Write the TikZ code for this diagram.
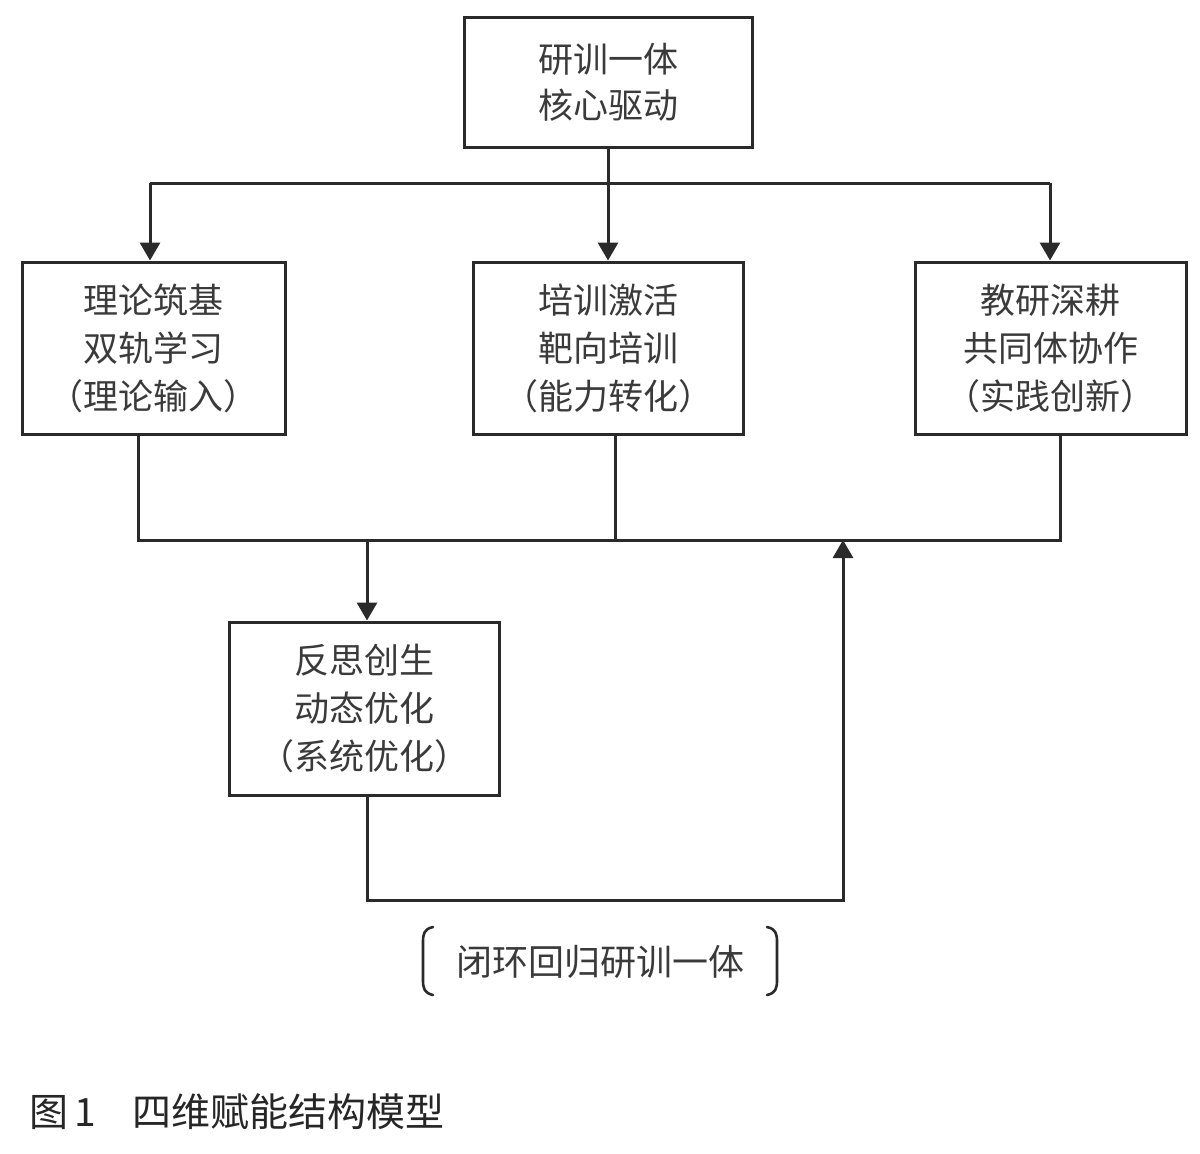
\documentclass[tikz,border=0pt]{standalone}
\usepackage{fontspec}
\setmainfont{Noto Sans CJK SC}
\usetikzlibrary{arrows.meta,calc}
\definecolor{ink}{HTML}{2A2A2A}
\definecolor{txt}{HTML}{3A3A3A}
\tikzset{
  box/.style={draw=ink, line width=1.5pt, inner sep=0pt, align=center, text=txt,
    font=\fontsize{17.5pt}{24pt}\selectfont},
  conn/.style={draw=ink, line width=1.5pt},
  arr/.style={conn, -{Triangle[width=10pt,length=9pt]}},
}
\begin{document}
\begin{tikzpicture}[x=0.5pt,y=-0.5pt]
\useasboundingbox (0,0) rectangle (1200,1153);
% boxes
\node[box, minimum width=144pt, minimum height=65pt] (top) at (608,82) {研训一体\\[-1pt]核心驱动};
\node[box, minimum width=131.5pt, minimum height=86pt] (left) at (153.5,348) {理论筑基\\双轨学习\\（理论输入）};
\node[box, minimum width=135pt, minimum height=86pt] (mid) at (608,348) {培训激活\\靶向培训\\（能力转化）};
\node[box, minimum width=135.5pt, minimum height=86pt] (right) at (1050.5,348) {教研深耕\\共同体协作\\（实践创新）};
\node[box, minimum width=135pt, minimum height=86.5pt] (bot) at (364,708.5) {反思创生\\动态优化\\（系统优化）};
% top distribution
\coordinate (hr) at (1050,183);
\coordinate (hl) at (150,183);
\draw[arr] (top.south) -- (mid.north);
\draw[conn] (hl) -- (hr);
\draw[arr] (hl) -- (hl |- left.north);
\draw[arr] (hr) -- (hr |- right.north);
% collection
\coordinate (j1) at (138,540);
\coordinate (j2) at (615,540);
\coordinate (j3) at (1060,540);
\coordinate (jd) at (367,540);
\coordinate (jm) at (843,540);
\draw[conn] (left.south -| j1) -- (j1) -- (j3) -- (right.south -| j3);
\draw[conn] (mid.south -| j2) -- (j2);
\draw[arr] (jd) -- (jd |- bot.north);
% loop back
\coordinate (lp) at (843,900);
\draw[arr] (bot.south -| jd) |- (lp) -- (jm);
% bracket label
\node[text=txt, font=\fontsize{18pt}{22pt}\selectfont] (lbl) at (600,962) {闭环回归研训一体};
\draw[conn, line width=1.3pt, line cap=round] (433,927) .. controls (424,929) and (423,934) .. (423,942) -- (423,980) .. controls (423,988) and (424,993) .. (433,995);
\draw[conn, line width=1.3pt, line cap=round] (767,927) .. controls (776,929) and (777,934) .. (777,942) -- (777,980) .. controls (777,988) and (776,993) .. (767,995);
% caption
\node[anchor=west, text=black!85, font=\fontsize{19.5pt}{24pt}\selectfont] (cap) at (22,1112) {图\,1\hspace{18pt}四维赋能结构模型};
\end{tikzpicture}
\end{document}
